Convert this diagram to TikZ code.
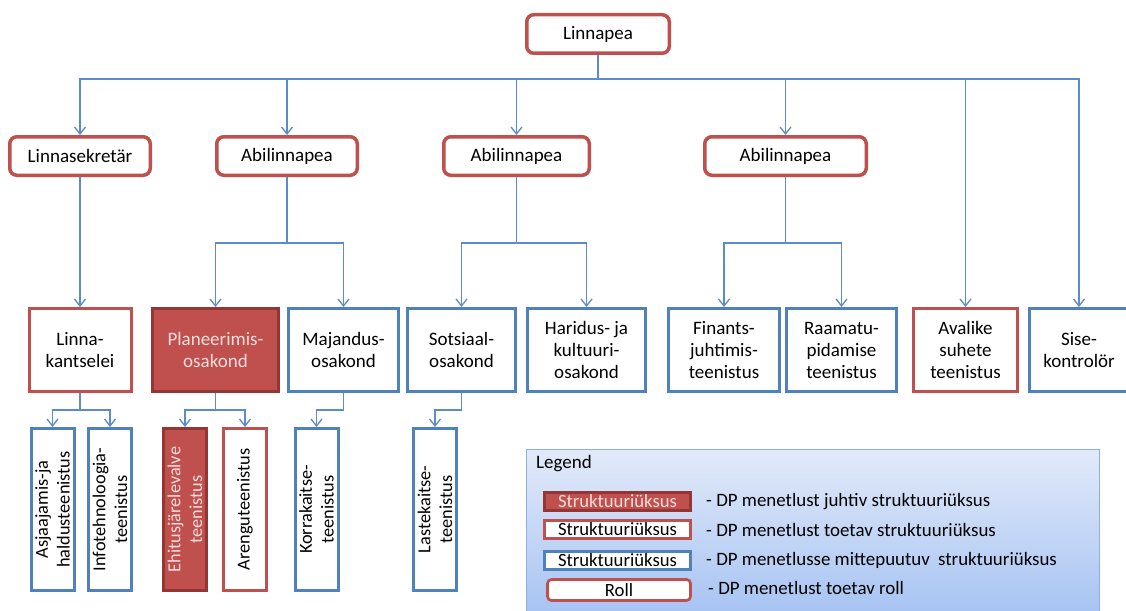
\documentclass[tikz,border=0pt]{standalone}
\usepackage{fontspec}
\setmainfont{Carlito}
\usetikzlibrary{arrows.meta}
\definecolor{ored}{HTML}{C0504D}
\definecolor{odred}{HTML}{943634}
\definecolor{oblue}{HTML}{4F81BD}
\definecolor{connc}{HTML}{5B8BC8}
\definecolor{ltext}{HTML}{F4DEDD}
\definecolor{lgtop}{HTML}{E2EAF9}
\definecolor{lgbot}{HTML}{A5C2F2}
\definecolor{lgborder}{HTML}{8DB0E0}
\begin{document}
\begin{tikzpicture}[x=1pt,y=-1pt,
  every node/.style={font=\fontsize{19}{22}\selectfont, inner sep=0pt, align=center, text=black},
  role/.style={draw=ored, line width=3.5pt, fill=white, rounded corners=7pt, minimum height=38.5pt, minimum width=#1},
  unitred/.style={draw=ored, line width=3pt, fill=white, minimum height=83pt, minimum width=#1},
  unitblue/.style={draw=oblue, line width=3pt, fill=white, minimum height=83pt, minimum width=#1},
  unitlead/.style={draw=odred, line width=3pt, fill=ored, text=ltext, minimum height=83pt, minimum width=#1},
  subbase/.style={rotate=90, line width=3pt, minimum width=162pt, minimum height=43pt, font=\fontsize{18.3}{21.7}\selectfont},
  subblue/.style={subbase, draw=oblue, fill=white},
  subred/.style={subbase, draw=ored, fill=white},
  sublead/.style={subbase, draw=odred, fill=ored, text=ltext},
  conn/.style={draw=connc, line width=1.3pt},
  arr/.style={conn, -{Straight Barb[length=7pt,width=11pt]}},
  lgbase/.style={line width=2.7pt, minimum width=146pt, minimum height=18.5pt, font=\fontsize{18.7}{20}\selectfont},
  lgdesc/.style={anchor=west, font=\fontsize{18.9}{20}\selectfont}
]
\useasboundingbox (0,0) rectangle (1126,610);
\fill[white] (0,0) rectangle (1126,610);

% top
\node[role=142.5pt] (lp) at (598,34) {Linnapea};
\coordinate (busy) at (0,79);
\coordinate (midy) at (0,243);
\coordinate (lowy) at (0,410);

% row 2
\node[role=140.5pt] (ls) at (80,156) {Linnasekretär};
\node[role=140.5pt] (ab1) at (287,156) {Abilinnapea};
\node[role=145.5pt] (ab2) at (516.5,156) {Abilinnapea};
\node[role=161.5pt] (ab3) at (785.5,156) {Abilinnapea};

% row 3
\node[unitred=102pt] (lk) at (80,350) {Linna-\\kantselei};
\node[unitlead=126pt] (pl) at (215.5,350) {Planeerimis-\\osakond};
\node[unitblue=110pt] (mj) at (343.5,350) {Majandus-\\osakond};
\node[unitblue=108pt] (so) at (461.5,350) {Sotsiaal-\\osakond};
\node[unitblue=118pt] (ha) at (586.5,350) {Haridus- ja\\kultuuri-\\osakond};
\node[unitblue=111pt] (fi) at (724,350) {Finants-\\juhtimis-\\teenistus};
\node[unitblue=110pt] (ra) at (841.5,350) {Raamatu-\\pidamise\\teenistus};
\node[unitred=104pt] (av) at (965.5,350) {Avalike\\suhete\\teenistus};
\node[unitblue=99pt] (si) at (1079,350) {Sise-\\kontrolör};

% row 4
\node[subblue] (a1) at (52.5,509.5) {Asjaajamis-ja\\haldusteenistus};
\node[subblue] (a2) at (110,509.5) {Infotehnoloogia-\\teenistus};
\node[sublead] (e1) at (185,509.5) {Ehitusjärelevalve\\teenistus};
\node[subred] (e2) at (245,509.5) {Arenguteenistus};
\node[subblue] (k1) at (316.5,509.5) {Korrakaitse-\\teenistus};
\node[subblue] (l1) at (435,509.5) {Lastekaitse-\\teenistus};

% connectors top -> row 2 / row 3
\draw[arr] (lp.south) -- (lp.south |- busy) -| (ls.north);
\draw[arr] (lp.south) -- (lp.south |- busy) -| (ab1.north);
\draw[arr] (lp.south) -- (lp.south |- busy) -| (ab2.north);
\draw[arr] (lp.south) -- (lp.south |- busy) -| (ab3.north);
\draw[arr] (lp.south) -- (lp.south |- busy) -| (av.north);
\draw[arr] (lp.south) -- (lp.south |- busy) -| (si.north);

% row 2 -> row 3
\draw[arr] (ls.south) -- (lk.north);
\draw[arr] (ab1.south) -- (ab1.south |- midy) -| (pl.north);
\draw[arr] (ab1.south) -- (ab1.south |- midy) -| (mj.north);
\draw[arr] (ab2.south) -- (ab2.south |- midy) -| (so.north);
\draw[arr] (ab2.south) -- (ab2.south |- midy) -| (ha.north);
\draw[arr] (ab3.south) -- (ab3.south |- midy) -| (fi.north);
\draw[arr] (ab3.south) -- (ab3.south |- midy) -| (ra.north);

% row 3 -> row 4
\draw[arr] (lk.south) -- (lk.south |- lowy) -| (a1.east);
\draw[arr] (lk.south) -- (lk.south |- lowy) -| (a2.east);
\draw[arr] (pl.south) -- (pl.south |- lowy) -| (e1.east);
\draw[arr] (pl.south) -- (pl.south |- lowy) -| (e2.east);
\draw[arr] (mj.south) -- (mj.south |- lowy) -| (k1.east);
\draw[arr] (so.south) -- (so.south |- lowy) -| (l1.east);

% legend
\node[anchor=north west, minimum width=573pt, minimum height=170pt, top color=lgtop, bottom color=lgbot, draw=lgborder, line width=1.2pt] (lgbox) at (526,449) {};
\node[anchor=west] (lgt) at (536,464) {Legend};
\node[lgbase, draw=odred, fill=ored, text=ltext] (lg1) at (617.5,501.5) {Struktuuriüksus};
\node[lgbase, draw=ored, fill=white] (lg2) at (617.5,529.5) {Struktuuriüksus};
\node[lgbase, draw=oblue, fill=white] (lg3) at (617.5,560.5) {Struktuuriüksus};
\node[lgbase, draw=ored, fill=white, rounded corners=4pt, minimum width=143pt, minimum height=21pt] (lg4) at (619,590) {Roll};
\node[lgdesc] (d1) at (706,501.5) {- DP menetlust juhtiv struktuuriüksus};
\node[lgdesc] (d2) at (706,529.5) {- DP menetlust toetav struktuuriüksus};
\node[lgdesc] (d3) at (706,560.5) {- DP menetlusse mittepuutuv\hspace{4pt} struktuuriüksus};
\node[lgdesc] (d4) at (708,588) {- DP menetlust toetav roll};
\end{tikzpicture}
\end{document}
